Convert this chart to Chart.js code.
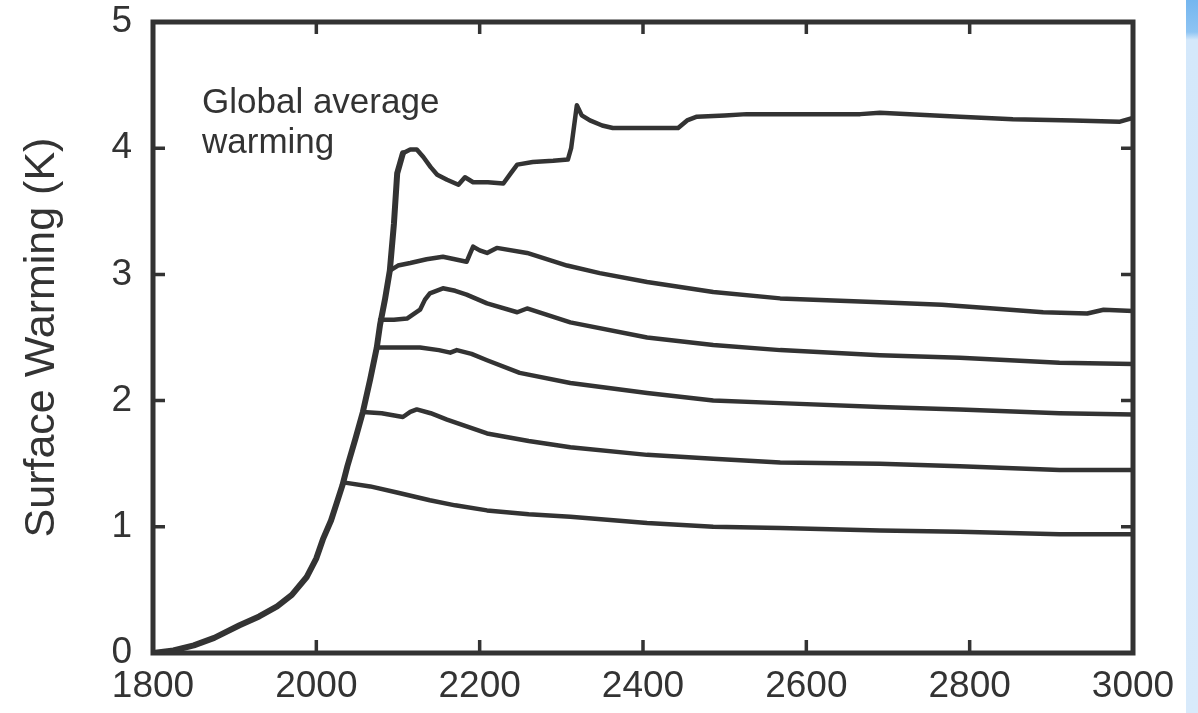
<!DOCTYPE html>
<html>
<head>
<meta charset="utf-8">
<title>Surface Warming</title>
<script src="https://cdn.jsdelivr.net/npm/chart.js@4/dist/chart.umd.min.js"></script>
<style>
  html, body { margin: 0; padding: 0; background: #fff; }
  #wrap { position: relative; width: 1198px; height: 713px; overflow: hidden; }
  #strip { position: absolute; left: 1186px; top: 0; width: 12px; height: 713px;
           background: linear-gradient(#74b6ef 0px, #8ec4f3 32px, #d4e8fb 40px, #d8eafb 713px); }
  #chart { position: absolute; left: 0; top: 0; }
</style>
</head>
<body>
<div id="wrap">
  <div id="strip"></div>
  <canvas id="chart" width="1198" height="713"></canvas>
</div>
<script>
// shared rise, 1800 up to the top of the steepest run
const rampYears = [1800, 1825, 1850, 1875, 1906, 1930, 1952, 1970, 1988, 2000, 2008, 2018, 2025, 2032, 2038, 2048, 2057, 2066, 2074, 2078, 2084, 2090, 2095, 2099, 2106];
const rampValues = [0.0, 0.02, 0.06, 0.12, 0.22, 0.29, 0.37, 0.46, 0.60, 0.75, 0.90, 1.05, 1.19, 1.33, 1.48, 1.70, 1.91, 2.17, 2.42, 2.60, 2.80, 3.03, 3.40, 3.80, 3.96];

// branches (highest to lowest)
const topYears = [2106, 2115, 2123, 2131, 2140, 2148, 2160, 2174, 2182, 2192, 2210, 2229, 2238, 2246, 2265, 2290, 2308, 2312, 2319, 2325, 2335, 2350, 2363, 2405, 2443, 2454, 2466, 2500, 2527, 2608, 2666, 2690, 2788, 2853, 2927, 2984, 3000];
const topValues = [3.96, 3.99, 3.99, 3.93, 3.85, 3.79, 3.75, 3.71, 3.77, 3.73, 3.73, 3.72, 3.80, 3.87, 3.89, 3.90, 3.91, 4.00, 4.34, 4.26, 4.22, 4.18, 4.16, 4.16, 4.16, 4.22, 4.25, 4.26, 4.27, 4.27, 4.27, 4.28, 4.25, 4.23, 4.22, 4.21, 4.24];

const s2Years = [2090, 2100, 2115, 2135, 2155, 2184, 2188, 2192, 2200, 2209, 2221, 2258, 2307, 2347, 2405, 2486, 2568, 2690, 2766, 2829, 2890, 2944, 2964, 3000];
const s2Values = [3.03, 3.07, 3.09, 3.12, 3.14, 3.10, 3.16, 3.22, 3.19, 3.17, 3.21, 3.17, 3.07, 3.01, 2.94, 2.86, 2.81, 2.78, 2.76, 2.73, 2.70, 2.69, 2.72, 2.71];

const s3Years = [2078, 2095, 2111, 2127, 2133, 2139, 2155, 2170, 2184, 2209, 2246, 2258, 2311, 2405, 2486, 2568, 2690, 2788, 2910, 3000];
const s3Values = [2.64, 2.64, 2.65, 2.72, 2.80, 2.85, 2.89, 2.87, 2.84, 2.77, 2.70, 2.73, 2.62, 2.50, 2.44, 2.40, 2.36, 2.34, 2.30, 2.29];

const s4Years = [2074, 2100, 2127, 2150, 2164, 2172, 2190, 2209, 2249, 2311, 2405, 2486, 2568, 2690, 2788, 2910, 3000];
const s4Values = [2.42, 2.42, 2.42, 2.40, 2.38, 2.40, 2.37, 2.32, 2.22, 2.14, 2.06, 2.00, 1.98, 1.95, 1.93, 1.90, 1.89];

const s5Years = [2057, 2080, 2106, 2115, 2123, 2140, 2160, 2209, 2260, 2311, 2405, 2486, 2568, 2690, 2788, 2910, 3000];
const s5Values = [1.91, 1.90, 1.87, 1.91, 1.93, 1.90, 1.85, 1.74, 1.68, 1.63, 1.57, 1.54, 1.51, 1.50, 1.48, 1.45, 1.45];

const s6Years = [2035, 2066, 2100, 2139, 2170, 2209, 2260, 2311, 2405, 2486, 2568, 2690, 2788, 2910, 3000];
const s6Values = [1.35, 1.32, 1.27, 1.21, 1.17, 1.13, 1.10, 1.08, 1.03, 1.00, 0.99, 0.97, 0.96, 0.94, 0.94];

const xTicks = [1800, 2000, 2200, 2400, 2600, 2800, 3000];
const yTicks = [0, 1, 2, 3, 4, 5];
const yTitle = 'Surface Warming (K)';
const noteLines = ['Global average', 'warming'];

const ink = '#333333';
const fontFamily = '"Liberation Sans", Arial, Helvetica, sans-serif';

const toPoints = (xs, ys) => xs.map((x, i) => ({ x: x, y: ys[i] }));

const line = (label, xs, ys, width) => ({
    label: label,
    data: toPoints(xs, ys),
    borderColor: ink,
    borderWidth: width,
    pointRadius: 0,
    tension: 0,
    fill: false,
    borderJoinStyle: 'round',
    borderCapStyle: 'round'
});

// frame, inward ticks and the note
const framePlugin = {
    id: 'frame',
    afterDatasetsDraw(chart) {
        const { ctx, chartArea: a, scales } = chart;
        ctx.save();
        ctx.strokeStyle = ink;
        ctx.lineWidth = 5;
        ctx.lineCap = 'butt';
        ctx.lineJoin = 'miter';
        ctx.strokeRect(a.left, a.top, a.right - a.left, a.bottom - a.top);

        ctx.lineWidth = 3.5;
        ctx.beginPath();
        xTicks.forEach(v => {
            const px = scales.x.getPixelForValue(v);
            ctx.moveTo(px, a.bottom); ctx.lineTo(px, a.bottom - 13);
            ctx.moveTo(px, a.top); ctx.lineTo(px, a.top + 12);
        });
        yTicks.forEach(v => {
            const py = scales.y.getPixelForValue(v);
            ctx.moveTo(a.left, py); ctx.lineTo(a.left + 12, py);
            ctx.moveTo(a.right, py); ctx.lineTo(a.right - 12, py);
        });
        ctx.stroke();

        ctx.fillStyle = ink;
        ctx.font = '35px ' + fontFamily;
        ctx.textBaseline = 'alphabetic';
        ctx.textAlign = 'left';
        const nx = scales.x.getPixelForValue(1860);
        const ny = scales.y.getPixelForValue(4.28);
        noteLines.forEach((t, i) => ctx.fillText(t, nx, ny + i * 40));
        ctx.restore();
    }
};

new Chart(document.getElementById('chart'), {
    type: 'line',
    data: {
        datasets: [
            line('rise', rampYears, rampValues, 6),
            line('run 1', topYears, topValues, 4.5),
            line('run 2', s2Years, s2Values, 4.5),
            line('run 3', s3Years, s3Values, 4.5),
            line('run 4', s4Years, s4Values, 4.5),
            line('run 5', s5Years, s5Values, 4.5),
            line('run 6', s6Years, s6Values, 4.5)
        ]
    },
    options: {
        responsive: false,
        animation: false,
        events: [],
        layout: { padding: { left: 0, right: 65, top: 22, bottom: 0 } },
        plugins: {
            legend: { display: false },
            tooltip: { enabled: false }
        },
        scales: {
            x: {
                type: 'linear',
                min: 1800,
                max: 3000,
                afterBuildTicks: s => { s.ticks = xTicks.map(v => ({ value: v })); },
                afterFit: s => { s.height = 60; s.paddingLeft = 0; s.paddingRight = 0; },
                grid: { display: false, drawTicks: false },
                border: { display: false },
                ticks: {
                    color: ink,
                    padding: 12,
                    maxRotation: 0,
                    font: { family: fontFamily, size: 37 },
                    callback: v => String(v)
                }
            },
            y: {
                min: 0,
                max: 5,
                afterBuildTicks: s => { s.ticks = yTicks.map(v => ({ value: v })); },
                afterFit: s => { s.width = 153; s.paddingTop = 0; s.paddingBottom = 0; },
                grid: { display: false, drawTicks: false },
                border: { display: false },
                ticks: {
                    color: ink,
                    padding: 21,
                    font: { family: fontFamily, size: 37 },
                    callback: v => String(v)
                },
                title: {
                    display: true,
                    text: yTitle,
                    color: ink,
                    font: { family: fontFamily, size: 43 },
                    padding: { top: 16, bottom: 0 }
                }
            }
        }
    },
    plugins: [framePlugin]
});
</script>
</body>
</html>
